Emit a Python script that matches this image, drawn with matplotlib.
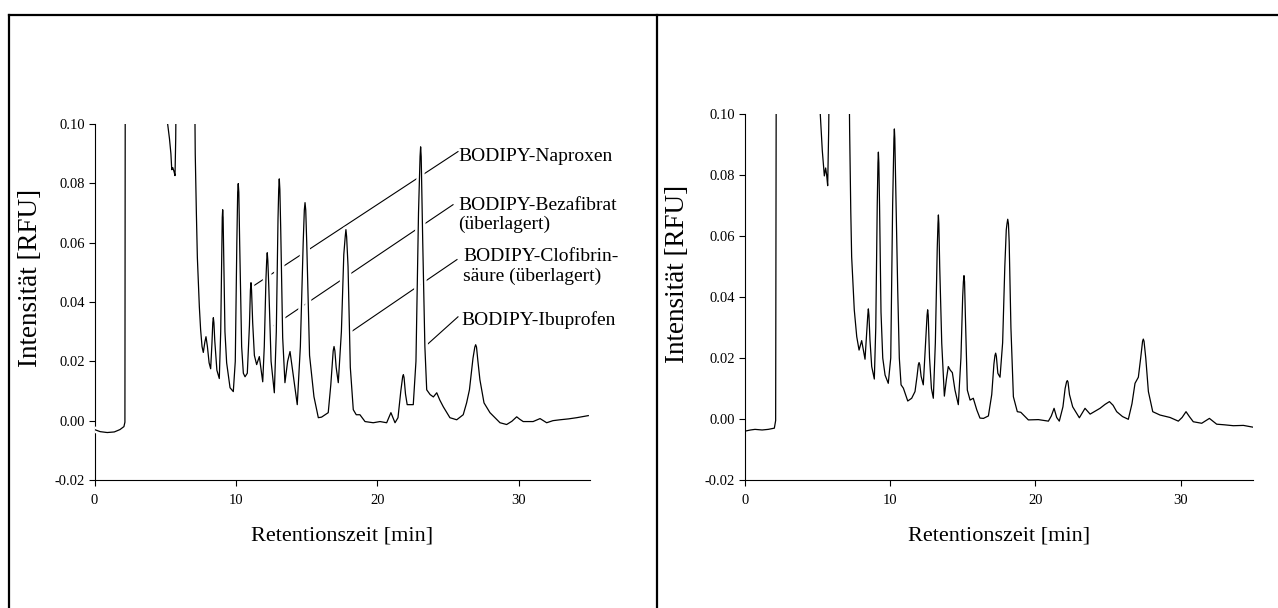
import numpy as np
import matplotlib
matplotlib.use("Agg")
import matplotlib.pyplot as plt
import matplotlib.patheffects as pe
from matplotlib.lines import Line2D
from matplotlib.ticker import FormatStrFormatter, MultipleLocator

plt.rcParams['font.family'] = 'serif'
plt.rcParams['font.serif'] = ['Liberation Serif', 'DejaVu Serif']
plt.rcParams['axes.unicode_minus'] = False

# chromatogram 1 (with annotated peaks): retention time [min], intensity [RFU]
# values above 0.10 are the off-scale solvent / reagent peaks
left_t = [0.00, 0.40, 0.90, 1.40, 1.80, 2.08, 2.15, 2.19, 3.50, 5.10,
          5.17, 5.30, 5.40, 5.46, 5.53, 5.62, 5.69, 5.74, 5.80, 6.50,
          7.05, 7.12, 7.20, 7.27, 7.41, 7.50, 7.60, 7.69, 7.80, 7.88,
          7.98, 8.10, 8.21, 8.30, 8.36, 8.40, 8.44, 8.50, 8.65, 8.82,
          8.92, 9.00, 9.03, 9.06, 9.09, 9.12, 9.22, 9.34, 9.58, 9.81,
          9.95, 10.06, 10.12, 10.16, 10.20, 10.26, 10.40, 10.52, 10.64, 10.80,
          10.95, 11.02, 11.06, 11.10, 11.18, 11.30, 11.46, 11.65, 11.78, 11.89,
          12.00, 12.12, 12.17, 12.21, 12.25, 12.32, 12.48, 12.71, 12.85, 12.97,
          13.02, 13.06, 13.10, 13.16, 13.30, 13.46, 13.65, 13.82, 14.00, 14.33,
          14.55, 14.75, 14.83, 14.88, 14.93, 15.00, 15.20, 15.51, 15.82, 16.05,
          16.52, 16.70, 16.87, 16.93, 16.99, 17.08, 17.23, 17.45, 17.62, 17.72,
          17.77, 17.82, 17.92, 18.08, 18.29, 18.50, 18.76, 19.12, 19.70, 20.18,
          20.65, 20.95, 21.24, 21.45, 21.65, 21.78, 21.83, 21.88, 21.98, 22.10,
          22.53, 22.72, 22.90, 23.01, 23.05, 23.09, 23.20, 23.35, 23.48, 23.72,
          23.95, 24.19, 24.40, 24.65, 25.12, 25.60, 26.06, 26.30, 26.50, 26.75,
          26.88, 26.94, 27.00, 27.10, 27.24, 27.53, 27.95, 28.30, 28.66, 29.13,
          29.50, 29.84, 30.05, 30.30, 31.00, 31.49, 31.96, 32.40, 32.90, 33.50,
          34.08, 34.90]
left_v = [-0.0030, -0.0037, -0.0040, -0.0038, -0.0030, -0.0020, -0.0005, 0.2000, 0.4000, 0.1200,
          0.1000, 0.0950, 0.0900, 0.0846, 0.0853, 0.0840, 0.0826, 0.0950, 0.1300, 0.4000,
          0.1300, 0.0900, 0.0700, 0.0550, 0.0384, 0.0307, 0.0250, 0.0230, 0.0265, 0.0283,
          0.0250, 0.0195, 0.0175, 0.0260, 0.0330, 0.0347, 0.0330, 0.0270, 0.0170, 0.0142,
          0.0300, 0.0600, 0.0685, 0.0711, 0.0685, 0.0600, 0.0300, 0.0195, 0.0111, 0.0098,
          0.0200, 0.0600, 0.0770, 0.0799, 0.0770, 0.0600, 0.0250, 0.0160, 0.0148, 0.0160,
          0.0320, 0.0440, 0.0465, 0.0440, 0.0330, 0.0220, 0.0189, 0.0216, 0.0170, 0.0131,
          0.0250, 0.0480, 0.0540, 0.0566, 0.0540, 0.0450, 0.0200, 0.0094, 0.0300, 0.0680,
          0.0780, 0.0815, 0.0780, 0.0650, 0.0280, 0.0128, 0.0200, 0.0233, 0.0170, 0.0054,
          0.0250, 0.0600, 0.0710, 0.0735, 0.0710, 0.0600, 0.0220, 0.0081, 0.0010, 0.0012,
          0.0027, 0.0120, 0.0235, 0.0250, 0.0235, 0.0180, 0.0128, 0.0300, 0.0560, 0.0620,
          0.0644, 0.0620, 0.0520, 0.0180, 0.0037, 0.0020, 0.0020, -0.0003, -0.0007, -0.0003,
          -0.0007, 0.0027, -0.0007, 0.0010, 0.0100, 0.0148, 0.0155, 0.0145, 0.0090, 0.0054,
          0.0054, 0.0200, 0.0700, 0.0890, 0.0923, 0.0890, 0.0600, 0.0250, 0.0104, 0.0088,
          0.0080, 0.0094, 0.0070, 0.0047, 0.0010, 0.0003, 0.0020, 0.0060, 0.0104, 0.0210,
          0.0248, 0.0256, 0.0248, 0.0200, 0.0138, 0.0060, 0.0027, 0.0010, -0.0007, -0.0013,
          -0.0002, 0.0013, 0.0005, -0.0003, -0.0003, 0.0007, -0.0007, 0.0000, 0.0003, 0.0006,
          0.0010, 0.0017]

# chromatogram 2
right_t = [0.00, 0.40, 0.71, 1.20, 1.62, 2.04, 2.13, 2.20, 3.50, 5.10,
           5.20, 5.34, 5.48, 5.57, 5.64, 5.71, 5.78, 5.85, 6.50, 7.15,
           7.22, 7.30, 7.36, 7.54, 7.71, 7.87, 8.05, 8.15, 8.28, 8.40,
           8.47, 8.51, 8.55, 8.62, 8.74, 8.92, 9.02, 9.12, 9.17, 9.20,
           9.23, 9.28, 9.38, 9.50, 9.66, 9.88, 10.05, 10.18, 10.27, 10.30,
           10.33, 10.40, 10.53, 10.64, 10.76, 10.92, 11.22, 11.49, 11.72, 11.86,
           11.95, 12.00, 12.05, 12.14, 12.29, 12.45, 12.55, 12.59, 12.63, 12.72,
           12.85, 12.98, 13.12, 13.25, 13.30, 13.33, 13.36, 13.42, 13.56, 13.74,
           13.88, 14.01, 14.15, 14.29, 14.47, 14.70, 14.88, 15.00, 15.05, 15.09,
           15.13, 15.18, 15.32, 15.51, 15.73, 15.97, 16.19, 16.43, 16.77, 17.00,
           17.15, 17.22, 17.27, 17.32, 17.42, 17.57, 17.75, 17.90, 18.00, 18.05,
           18.10, 18.15, 18.20, 18.32, 18.49, 18.76, 19.00, 19.52, 20.21, 20.90,
           21.10, 21.29, 21.47, 21.65, 21.90, 22.05, 22.15, 22.20, 22.25, 22.35,
           22.57, 23.03, 23.42, 23.77, 24.45, 24.80, 25.10, 25.35, 25.60, 26.00,
           26.40, 26.65, 26.86, 27.09, 27.25, 27.38, 27.43, 27.48, 27.60, 27.78,
           28.08, 28.58, 29.27, 29.84, 30.10, 30.37, 30.60, 30.87, 31.45, 31.98,
           32.48, 33.00, 33.63, 34.32, 35.00]
right_v = [-0.0040, -0.0036, -0.0034, -0.0036, -0.0034, -0.0030, -0.0005, 0.2000, 0.4000, 0.1200,
           0.1000, 0.0880, 0.0797, 0.0823, 0.0800, 0.0765, 0.0950, 0.1300, 0.4000, 0.1300,
           0.0950, 0.0680, 0.0532, 0.0358, 0.0270, 0.0226, 0.0257, 0.0230, 0.0196, 0.0290,
           0.0340, 0.0361, 0.0340, 0.0260, 0.0172, 0.0131, 0.0300, 0.0700, 0.0840, 0.0875,
           0.0840, 0.0700, 0.0350, 0.0200, 0.0144, 0.0117, 0.0200, 0.0700, 0.0920, 0.0951,
           0.0920, 0.0750, 0.0423, 0.0200, 0.0112, 0.0101, 0.0059, 0.0068, 0.0090, 0.0140,
           0.0178, 0.0185, 0.0178, 0.0140, 0.0112, 0.0250, 0.0340, 0.0358, 0.0340, 0.0200,
           0.0100, 0.0068, 0.0250, 0.0560, 0.0640, 0.0669, 0.0640, 0.0500, 0.0248, 0.0075,
           0.0130, 0.0172, 0.0160, 0.0152, 0.0095, 0.0047, 0.0200, 0.0400, 0.0450, 0.0470,
           0.0450, 0.0350, 0.0095, 0.0062, 0.0068, 0.0030, 0.0003, 0.0002, 0.0010, 0.0080,
           0.0180, 0.0208, 0.0216, 0.0205, 0.0150, 0.0137, 0.0250, 0.0500, 0.0620, 0.0640,
           0.0655, 0.0640, 0.0580, 0.0300, 0.0073, 0.0024, 0.0022, -0.0003, -0.0002, -0.0007,
           0.0010, 0.0035, 0.0005, -0.0007, 0.0040, 0.0100, 0.0122, 0.0126, 0.0121, 0.0080,
           0.0040, 0.0004, 0.0035, 0.0016, 0.0035, 0.0048, 0.0057, 0.0045, 0.0024, 0.0008,
           -0.0001, 0.0050, 0.0117, 0.0137, 0.0200, 0.0255, 0.0262, 0.0255, 0.0200, 0.0090,
           0.0024, 0.0013, 0.0005, -0.0007, 0.0005, 0.0024, 0.0008, -0.0009, -0.0014, 0.0002,
           -0.0017, -0.0019, -0.0022, -0.0021, -0.0027]

# peak labels: text, target peak (time, intensity), leader start, text anchor
peak_labels = ["BODIPY-Naproxen",
               "BODIPY-Bezafibrat\n(überlagert)",
               "BODIPY-Clofibrin-\nsäure (überlagert)",
               "BODIPY-Ibuprofen"]
peak_xy = [(11.1, 0.045), (12.33, 0.031), (18.06, 0.0297), (23.5, 0.0256)]
line_start = [(25.69, 0.0907), (25.34, 0.0728), (25.62, 0.0543), (25.69, 0.0350)]
text_xy = [(25.7, 0.0890), (25.7, 0.0693), (26.05, 0.0520), (25.95, 0.0339)]

W, H = 1278, 608
fig = plt.figure(figsize=(W / 100, H / 100), dpi=100)


def make_axes(x0, x1, y_top, y_bot):
    ax = fig.add_axes([x0 / W, 1 - y_bot / H, (x1 - x0) / W, (y_bot - y_top) / H])
    ax.set_xlim(0, 35)
    ax.set_ylim(-0.02, 0.10)
    ax.spines['top'].set_visible(False)
    ax.spines['right'].set_visible(False)
    for s in ('left', 'bottom'):
        ax.spines[s].set_linewidth(0.8)
    ax.xaxis.set_major_locator(MultipleLocator(10))
    ax.yaxis.set_major_locator(MultipleLocator(0.02))
    ax.yaxis.set_major_formatter(FormatStrFormatter('%.2f'))
    ax.tick_params(direction='out', length=4, width=0.8, labelsize=10.5)
    ax.tick_params(axis='x', pad=6)
    ax.tick_params(axis='y', pad=3)
    return ax


# white halo around the trace breaks the leader lines where they cross it
trace_fx = [pe.withStroke(linewidth=4.5, foreground='white')]

ax1 = make_axes(94.5, 589.7, 124, 480)
ax1.plot(left_t, left_v, color='black', lw=0.9, zorder=3, path_effects=trace_fx,
         solid_joinstyle='round')
for lab, xy, st, txy in zip(peak_labels, peak_xy, line_start, text_xy):
    ax1.plot([st[0], xy[0]], [st[1], xy[1]], color='black', lw=0.8, zorder=2)
    ax1.text(txy[0], txy[1], lab, fontsize=14, ha='left', va='center',
             linespacing=1.15, clip_on=False)

ax2 = make_axes(744.7, 1253.3, 114, 480)
ax2.plot(right_t, right_v, color='black', lw=0.9, zorder=3, solid_joinstyle='round')

# axis titles
for cx, cy in [(31, 278), (677, 274)]:
    fig.text(cx / W, 1 - cy / H, "Intensität [RFU]", rotation=90, fontsize=19.5,
             ha='center', va='center')
for cx in (342, 999):
    fig.text(cx / W, 1 - 536 / H, "Retentionszeit [min]", fontsize=16,
             ha='center', va='center')

# surrounding table frame
frame = [([8.5, W], [15, 15]), ([8.5, 8.5], [15, H]), ([657, 657], [15, H])]
for xs, ys in frame:
    fig.add_artist(Line2D([x / W for x in xs], [1 - y / H for y in ys],
                          transform=fig.transFigure, color='black', lw=1.6))

fig.savefig("out.png", dpi=100)
